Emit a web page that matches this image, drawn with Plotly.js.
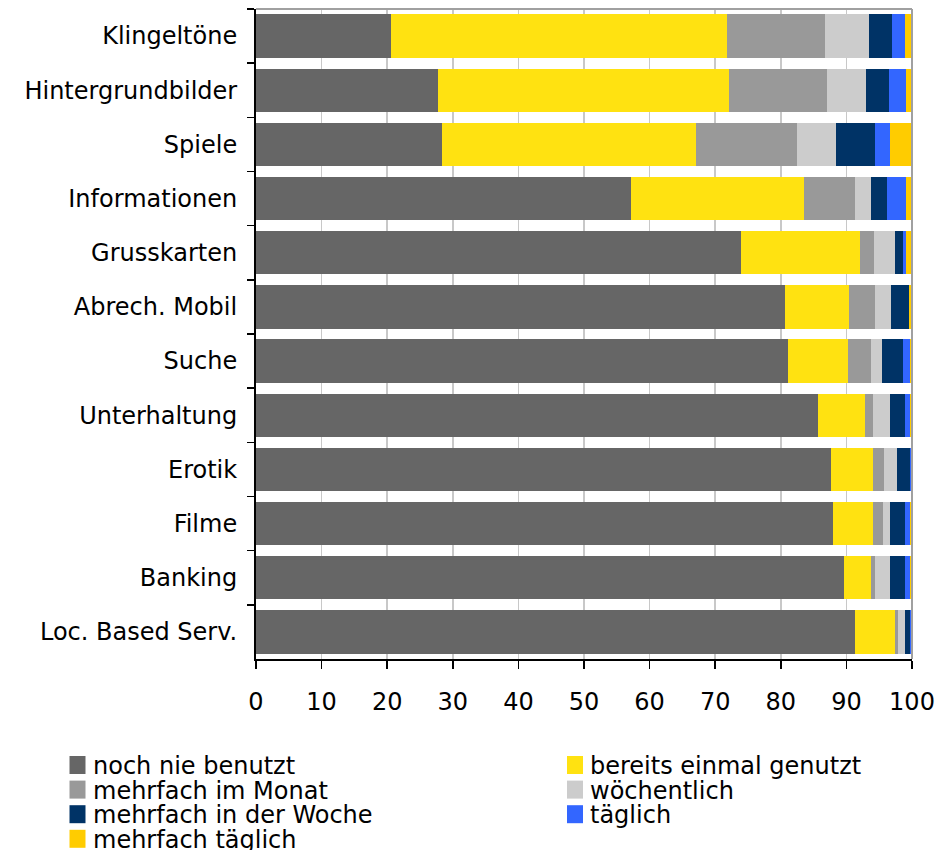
<!DOCTYPE html>
<html>
<head>
<meta charset="utf-8">
<script src="https://cdn.plot.ly/plotly-3.0.1.min.js"></script>
<style>html,body{margin:0;padding:0;background:#fff;}#chart{width:939px;height:850px;}</style>
</head>
<body>
<div id="chart"></div>
<script>
const categories = ["Klingeltöne","Hintergrundbilder","Spiele","Informationen","Grusskarten","Abrech. Mobil","Suche","Unterhaltung","Erotik","Filme","Banking","Loc. Based Serv."];
const seriesNames = ["noch nie benutzt","bereits einmal genutzt","mehrfach im Monat","wöchentlich","mehrfach in der Woche","täglich","mehrfach täglich"];
const nochNieBenutzt      = [20.6, 27.7, 28.3, 57.2, 74.0, 80.7, 81.1, 85.7, 87.7, 88.0, 89.6, 91.3];
const bereitsEinmal       = [51.2, 44.4, 38.7, 26.4, 18.1,  9.7,  9.2,  7.1,  6.4,  6.1,  4.2,  6.1];
const mehrfachImMonat     = [15.0, 15.0, 15.5,  7.7,  2.1,  4.0,  3.5,  1.3,  1.6,  1.5,  0.6,  0.5];
const woechentlich        = [ 6.7,  5.9,  5.9,  2.5,  3.2,  2.4,  1.6,  2.6,  2.0,  1.1,  2.3,  1.0];
const mehrfachInDerWoche  = [ 3.5,  3.5,  6.0,  2.4,  1.2,  2.7,  3.2,  2.2,  2.0,  2.2,  2.2,  0.8];
const taeglich            = [ 1.9,  2.6,  2.3,  2.9,  0.5,  0.1,  1.1,  0.8,  0.3,  0.8,  0.8,  0.3];
const mehrfachTaeglich    = [ 1.1,  0.9,  3.3,  0.9,  0.9,  0.4,  0.3,  0.3,  0.0,  0.3,  0.3,  0.0];
const xTicks = [0,10,20,30,40,50,60,70,80,90,100];

const seriesValues = [nochNieBenutzt, bereitsEinmal, mehrfachImMonat, woechentlich, mehrfachInDerWoche, taeglich, mehrfachTaeglich];
const colors = ["#666666","#FFE211","#999999","#CCCCCC","#003366","#3366FF","#FFCC00"];

const FONT = "DejaVu Sans, Verdana, sans-serif";
const W = 939, H = 850;
const M = {l: 256, r: 27, t: 9, b: 191};
const PW = W - M.l - M.r, PH = H - M.t - M.b;
// pixel -> paper coordinate helpers (for legend placement only)
const px = v => (v - M.l) / PW;
const py = v => (H - M.b - v) / PH;

const traces = seriesNames.map((name, i) => ({
  type: "bar",
  orientation: "h",
  name: name,
  y: categories,
  x: seriesValues[i],
  marker: {color: colors[i], line: {width: 0}},
  showlegend: false,
  hoverinfo: "x+y+name"
}));

// Two-column legend built row-wise (like the reference)
const legendCols = [69.5, 567];
const legendRow0 = 765, legendRowGap = 24.6;
const legendShapes = [], legendAnns = [];
seriesNames.forEach((name, i) => {
  const col = i % 2, row = Math.floor(i / 2);
  const cx = legendCols[col], cy = legendRow0 + row * legendRowGap;
  legendShapes.push({
    type: "rect", xref: "paper", yref: "paper",
    x0: px(cx), x1: px(cx + 16), y0: py(cy + 9), y1: py(cy - 9),
    fillcolor: colors[i], line: {width: 0}
  });
  legendAnns.push({
    xref: "paper", yref: "paper", x: px(cx + 21), y: py(cy + 1),
    xanchor: "left", yanchor: "middle", showarrow: false,
    text: name, font: {family: FONT, size: 24, color: "#000"}
  });
});

const layout = {
  width: W, height: H,
  margin: {l: M.l, r: M.r, t: M.t, b: M.b, pad: 0},
  barmode: "stack",
  bargap: 0.2,
  paper_bgcolor: "#ffffff",
  plot_bgcolor: "#ffffff",
  font: {family: FONT, size: 24, color: "#000000"},
  showlegend: false,
  xaxis: {
    range: [0, 100],
    tickvals: xTicks,
    ticktext: xTicks.map(String),
    ticks: "outside", ticklen: 8, tickwidth: 1.5, tickcolor: "#000",
    showline: true, linecolor: "#000", linewidth: 2,
    showgrid: true, gridcolor: "#c8c8c8", gridwidth: 1.5,
    zeroline: false,
    ticklabelstandoff: 12,
    tickfont: {family: FONT, size: 24, color: "#000"},
    fixedrange: true
  },
  yaxis: {
    type: "category",
    categoryorder: "array",
    categoryarray: categories,
    autorange: "reversed",
    ticks: "outside", ticklen: 7, tickwidth: 1.5, tickcolor: "#000",
    tickson: "boundaries",
    showline: true, linecolor: "#000", linewidth: 2,
    showgrid: false, zeroline: false,
    ticklabelstandoff: 12,
    tickfont: {family: FONT, size: 24, color: "#000"},
    fixedrange: true
  },
  shapes: [
    {type: "line", xref: "paper", yref: "paper", x0: 0, x1: 1, y0: 1, y1: 1, line: {color: "#a0a0a0", width: 2}},
    {type: "line", xref: "paper", yref: "paper", x0: 1, x1: 1, y0: 0, y1: 1, line: {color: "#a0a0a0", width: 2}}
  ].concat(legendShapes),
  annotations: legendAnns
};

Plotly.newPlot("chart", traces, layout, {displayModeBar: false, staticPlot: true});
</script>
</body>
</html>
